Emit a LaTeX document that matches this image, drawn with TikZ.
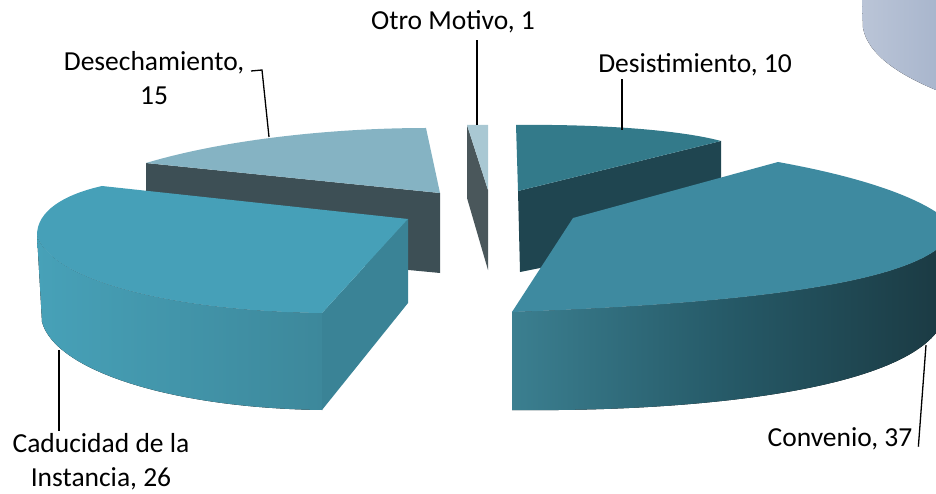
\documentclass[tikz,border=0pt]{standalone}
\usepackage{fontspec}
\setmainfont{Carlito}
\definecolor{backpie}{HTML}{A9B6CD}
\definecolor{desechtop}{HTML}{85B3C3}
\definecolor{desechside}{HTML}{3D4F55}
\definecolor{otrotop}{HTML}{A9C8D3}
\definecolor{otroside}{HTML}{4A575B}
\definecolor{desisttop}{HTML}{337A8A}
\definecolor{desistside}{HTML}{1F4550}
\definecolor{convtop}{HTML}{3E8AA0}
\definecolor{convleft}{HTML}{3B7F90}
\definecolor{convmid}{HTML}{265A68}
\definecolor{convright}{HTML}{1B3B44}
\definecolor{cadtop}{HTML}{46A0B8}
\definecolor{cadleft}{HTML}{47A1B8}
\definecolor{cadright}{HTML}{3D889B}
\definecolor{cadend}{HTML}{3A8396}
\begin{document}
\begin{tikzpicture}[x=1pt,y=-1pt,
  lbl/.style={inner sep=0pt,outer sep=3pt,font=\fontsize{27.5}{34}\selectfont,align=center},
  leader/.style={draw=black,line width=1.3pt}]
\useasboundingbox (0,0) rectangle (936,494);
% slice in the back, cut off by the border
\fill[left color=backpie!80!white,right color=backpie] (862,0) -- (863,28)
  .. controls (868,55) and (900,75) .. (936,90) -- (936,0) -- cycle;
% Desechamiento
\fill[desechside] (146,163) -- (440,193) -- (440,273) -- (146,245) -- cycle;
\fill[desechtop] (146,163) .. controls (230,138) and (340,128) .. (426,128)
  -- (440,193) -- cycle;
% Otro Motivo
\fill[otroside] (467,125) -- (488,190) -- (488,270) -- (467,198) -- cycle;
\fill[otrotop] (467,125) -- (488,125) -- (488,190) -- cycle;
% Desistimiento
\fill[desistside] (518,191) -- (721,141) -- (721,180) -- (600,240)
  -- (540,268) -- (520,272) -- cycle;
\fill[desisttop] (516,125) .. controls (600,124) and (680,130) .. (721,141)
  -- (518,191) -- cycle;
% Convenio
\fill[left color=convleft,right color=convright,middle color=convmid]
  (512,312) -- (512,410) .. controls (700,412) and (890,390) .. (936,333)
  -- (936,250) .. controls (880,290) and (700,305) .. (512,312) -- cycle;
\fill[convtop] (573,218) -- (778,162) .. controls (850,175) and (905,192) .. (936,212)
  -- (936,250) .. controls (880,290) and (700,305) .. (512,312) -- cycle;
% Caducidad de la Instancia
\fill[left color=cadleft,right color=cadright]
  (37,235) -- (42,322) .. controls (55,370) and (170,408) .. (322,410)
  -- (322,313) .. controls (170,311) and (50,280) .. (37,235) -- cycle;
\fill[cadend] (322,313) -- (408,219) -- (408,303) -- (322,410) -- cycle;
\fill[cadtop] (102,186) -- (408,219) -- (322,313)
  .. controls (170,311) and (50,280) .. (37,235)
  .. controls (37,212) and (62,195) .. (102,186) -- cycle;

\coordinate (p-desech) at (269,137);
\coordinate (p-otro) at (477,125);
\coordinate (p-desist) at (622,130);
\coordinate (p-cad) at (59,350);
\coordinate (p-conv) at (926,345);
\coordinate (desech-end) at (251,71);
\coordinate (otro-end) at (477,40);

\node[lbl] (desech) at (154,78) {Desechamiento,\\15};
\node[lbl] (otro) at (453,22) {Otro Motivo, 1};
\node[lbl] (desist) at (695,65) {Desistimiento, 10};
\node[lbl] (cad) at (101,462) {Caducidad de la\\Instancia, 26};
\node[lbl] (conv) at (840,439) {Convenio, 37};

\draw[leader] (desech-end) -- ++(11,-1) -- (p-desech);
\draw[leader] (p-otro) -- (otro-end);
\draw[leader] (p-desist) -- (p-desist |- desist.south);
\draw[leader] (p-cad) -- (p-cad |- cad.north);
\draw[leader] (p-conv) -- ([xshift=3pt]conv.base east);
\end{tikzpicture}
\end{document}
